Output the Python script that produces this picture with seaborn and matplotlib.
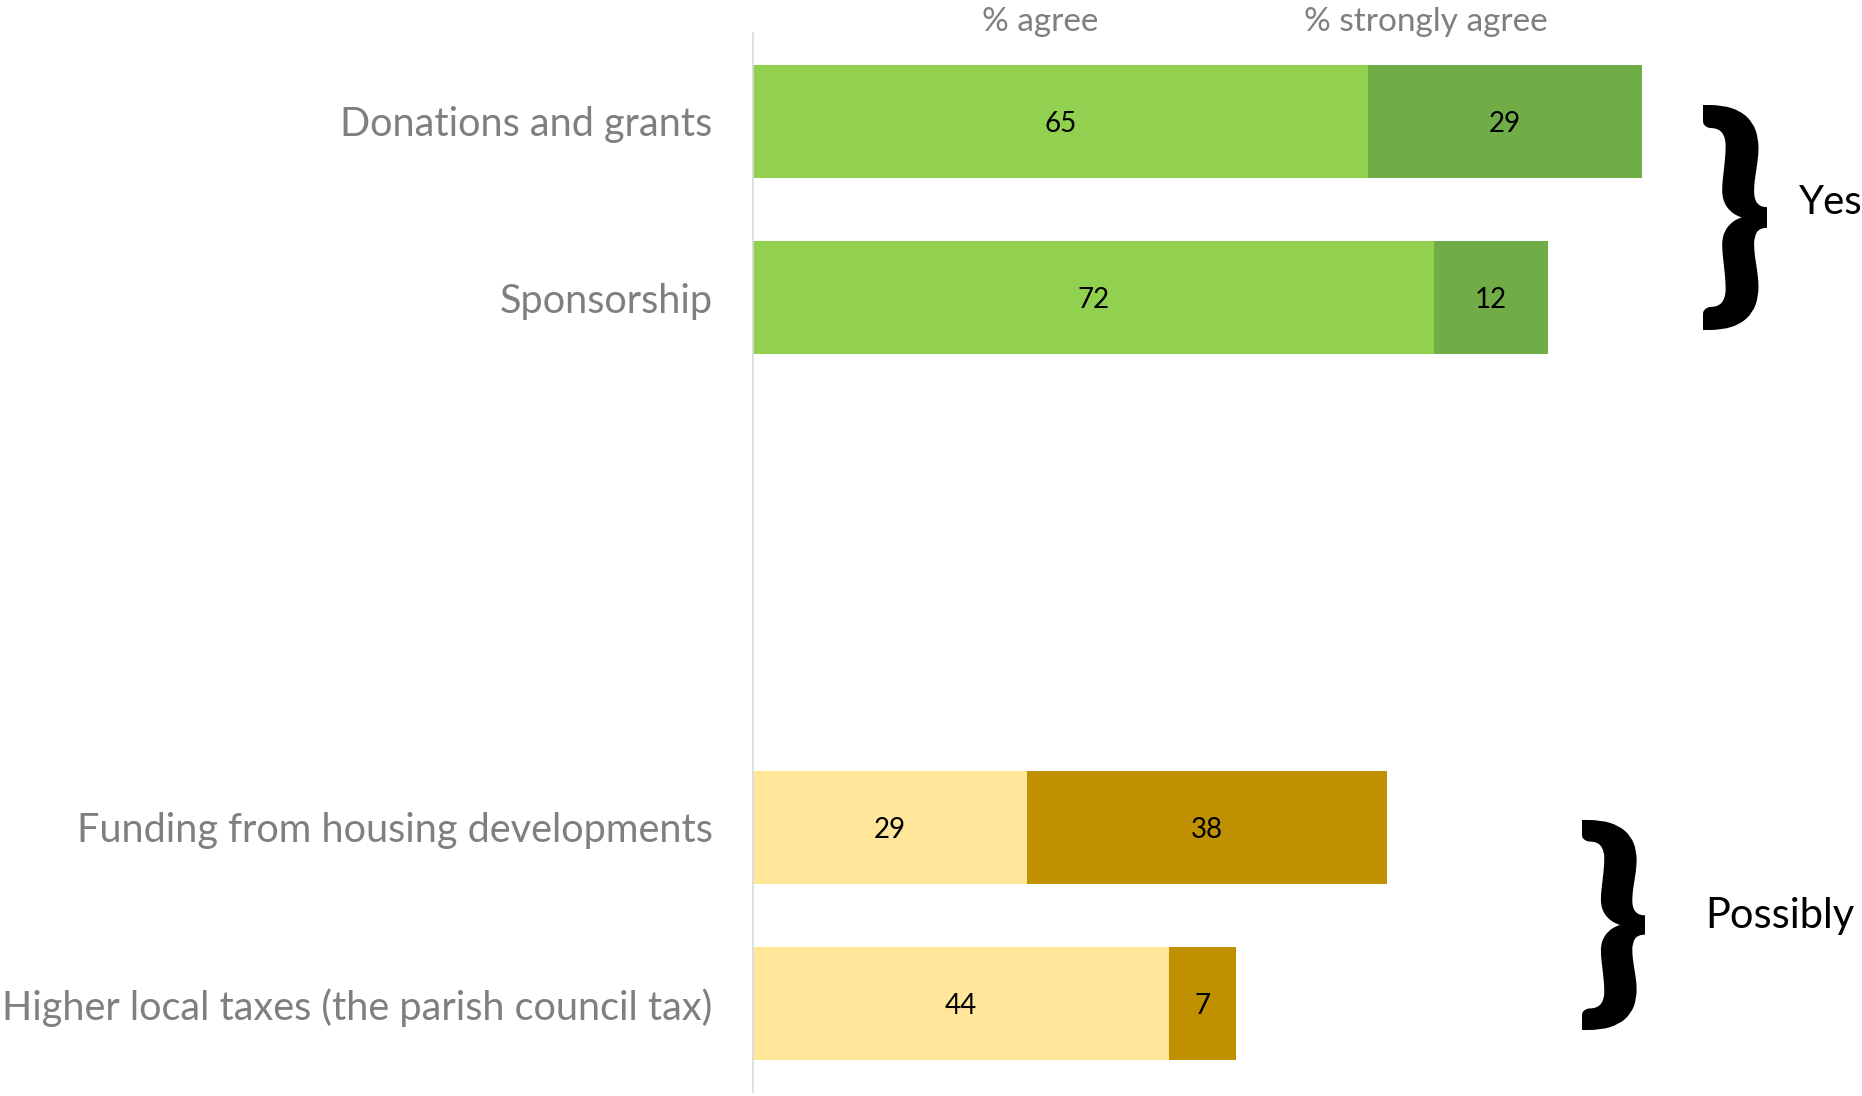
#!/usr/bin/env python
# stacked agreement bars for funding options

import matplotlib.pyplot as plt
import pandas as pd
import seaborn as sns
from matplotlib.font_manager import FontProperties
from matplotlib.patches import PathPatch
from matplotlib.textpath import TextPath
from matplotlib.transforms import Affine2D, blended_transform_factory

items = [
    "Donations and grants",
    "Sponsorship",
    "Funding from housing developments",
    "Higher local taxes (the parish council tax)",
]
agree = [65, 72, 29, 44]
strongly = [29, 12, 38, 7]
groups = ["Yes", "Yes", "Possibly", "Possibly"]
headers = ["% agree", "% strongly agree"]

light = {"Yes": "#92D050", "Possibly": "#FFE699"}
dark = {"Yes": "#70AD47", "Possibly": "#BF9000"}
GREY = "#7F7F7F"
W, H = 1862, 1096


def add_brace(fig, x0, y0, x1, y1):
    """Stretch a '}' glyph into a box given in figure pixels (top-left origin)."""
    tp = TextPath((0, 0), "}", prop=FontProperties(family="Lato", weight="heavy"), size=1)
    ext = tp.get_extents()
    tr = (
        Affine2D()
        .translate(-ext.x0, -ext.y0)
        .scale((x1 - x0) / ext.width, (y1 - y0) / ext.height)
        .translate(x0, H - y1)
        .scale(1 / W, 1 / H)
    )
    fig.patches.append(PathPatch(tr.transform_path(tp), transform=fig.transFigure,
                                 facecolor="black", edgecolor="none"))


def main():
    sns.set_style("white")
    plt.rcParams["font.family"] = ["Lato", "DejaVu Sans"]

    df = pd.DataFrame({"item": items, "agree": agree, "strongly": strongly, "group": groups})
    df["total"] = df["agree"] + df["strongly"]
    order = items[:2] + [" ", "  "] + items[2:]
    pal_dark = {it: dark[g] for it, g in zip(items, groups)}
    pal_light = {it: light[g] for it, g in zip(items, groups)}

    fig = plt.figure(figsize=(W / 100, H / 100), dpi=100)
    ax = fig.add_axes([753 / W, 4 / H, 1 - 753 / W, 1059 / H])

    sns.barplot(data=df, x="total", y="item", hue="item", order=order, palette=pal_dark,
                legend=False, width=0.64, linewidth=0, saturation=1, ax=ax, orient="h")
    sns.barplot(data=df, x="agree", y="item", hue="item", order=order, palette=pal_light,
                legend=False, width=0.64, linewidth=0, saturation=1, ax=ax, orient="h")

    # value labels in the middle of each segment
    for it, a, s in zip(items, agree, strongly):
        yy = order.index(it)
        ax.text(a / 2, yy, str(a), ha="center", va="center_baseline", fontsize=20, color="black")
        ax.text(a + s / 2, yy, str(s), ha="center", va="center_baseline", fontsize=20,
                color="black")

    ax.set_xlim(0, 117.2)
    ax.set_ylim(5.5, -0.5)
    ax.set_xlabel("")
    ax.set_ylabel("")
    ax.set_xticks([])
    ax.tick_params(axis="y", length=0, pad=29, labelsize=28.5, labelcolor=GREY)
    for side in ["top", "right", "bottom"]:
        ax.spines[side].set_visible(False)
    ax.spines["left"].set_color("#D9D9D9")
    ax.spines["left"].set_linewidth(1.2)

    # column headers above the bars
    tr = blended_transform_factory(ax.transData, fig.transFigure)
    for hx, txt in zip([30.3, 71.1], headers):
        ax.text(hx, 1 - 22 / H, txt, transform=tr, ha="center", va="center",
                fontsize=24, color=GREY)

    # group braces
    add_brace(fig, 1703, 105, 1767, 330)
    add_brace(fig, 1582, 820, 1645, 1030)
    fig.text(1799 / W, 1 - 214 / H, "Yes", fontsize=29, color="black", va="baseline")
    fig.text(1705 / W, 1 - 928 / H, "Possibly", fontsize=30, color="black", va="baseline")

    fig.savefig("out.png", dpi=100)
    plt.close()


if __name__ == "__main__":
    main()
